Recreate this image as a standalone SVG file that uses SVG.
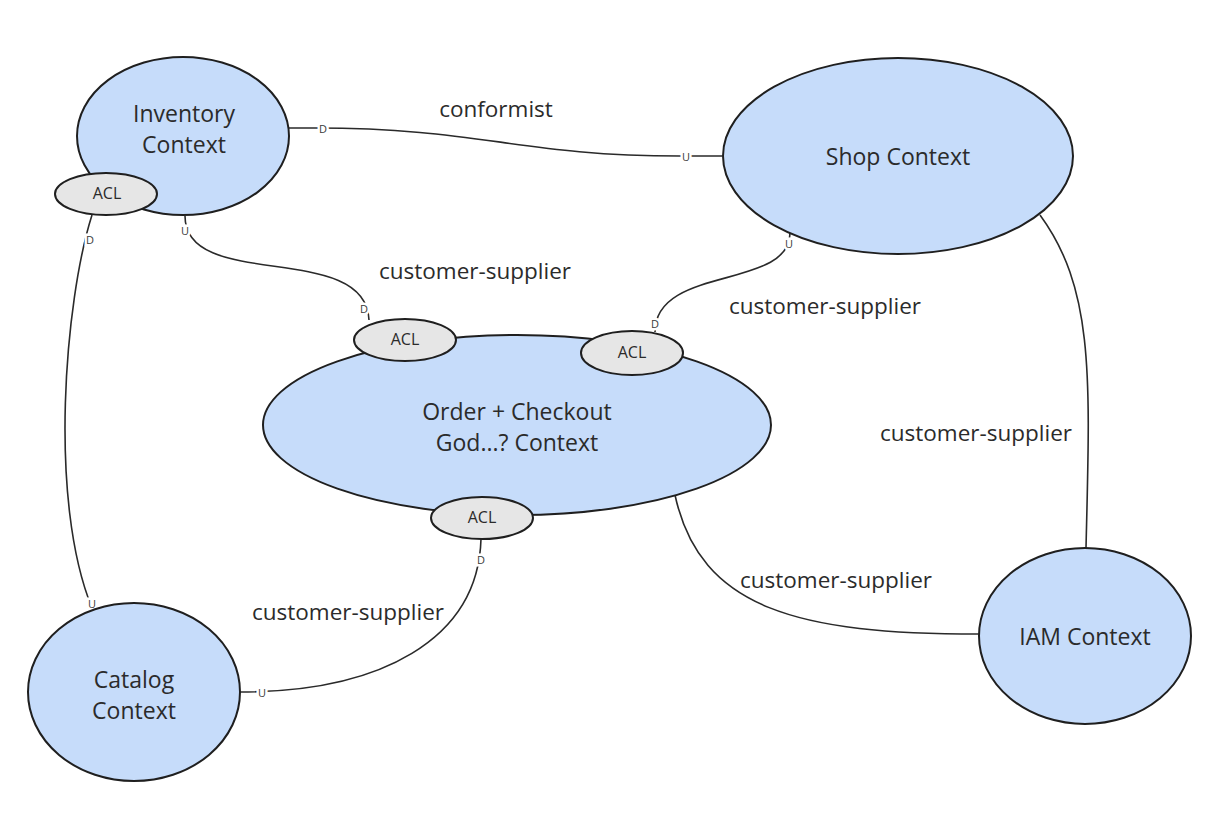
<svg xmlns="http://www.w3.org/2000/svg" width="1229" height="813" viewBox="0 0 1229 813">
<style>
.ctx{fill:#c6dcfa;stroke:#1f1f1f;stroke-width:2}
.acl{fill:#e6e6e6;stroke:#1f1f1f;stroke-width:2}
.t{font-family:"Open Sans","Noto Sans",sans-serif;font-size:23px;fill:#2b2b2b;text-anchor:middle;dominant-baseline:central}
.l{font-family:"Open Sans","Noto Sans",sans-serif;font-size:22.5px;fill:#2b2b2b;text-anchor:middle;dominant-baseline:central}
.ta{font-family:"Open Sans","Noto Sans",sans-serif;font-size:16px;fill:#2b2b2b;text-anchor:middle;dominant-baseline:central}
.ud{font-family:"Open Sans","Noto Sans",sans-serif;font-size:11px;fill:#3a3a3a;text-anchor:middle;dominant-baseline:central;stroke:#ffffff;stroke-width:5;paint-order:stroke}
.c{fill:none;stroke:#2a2a2a;stroke-width:1.6}
</style>
<rect width="1229" height="813" fill="#ffffff"/>
<g id="connectors">
  <path class="c" d="M289,128 L315,128 C480,128 520,156 680,156 L722,156"/>
  <path class="c" d="M185,216 C185,292 366,240 369,320"/>
  <path class="c" d="M790,233 C790,290 655,265 655,332"/>
  <path class="c" d="M92,215 C65,300 48,500 92,608"/>
  <path class="c" d="M481,539 C478,640 380,692 240,692"/>
  <path class="c" d="M675,495 C700,610 800,634 979,634"/>
  <path class="c" d="M1040,215 C1095,290 1090,380 1086,548"/>
  <text class="ud" x="323" y="128">D</text>
  <text class="ud" x="686" y="156">U</text>
  <text class="ud" x="185" y="230">U</text>
  <text class="ud" x="364" y="308">D</text>
  <text class="ud" x="789" y="243">U</text>
  <text class="ud" x="655" y="323">D</text>
  <text class="ud" x="90" y="239">D</text>
  <text class="ud" x="92" y="603">U</text>
  <text class="ud" x="481" y="559">D</text>
  <text class="ud" x="262" y="692">U</text>
  <text class="l" x="496" y="108">conformist</text>
  <text class="l" x="475" y="270">customer-supplier</text>
  <text class="l" x="825" y="305">customer-supplier</text>
  <text class="l" x="976" y="432">customer-supplier</text>
  <text class="l" x="836" y="579">customer-supplier</text>
  <text class="l" x="348" y="611">customer-supplier</text>
</g>
<g id="inventory">
  <ellipse class="ctx" cx="183" cy="136" rx="106" ry="79"/>
  <text class="t" x="184" y="113">Inventory</text>
  <text class="t" x="184" y="144">Context</text>
</g>
<g id="inventory-acl">
  <ellipse class="acl" cx="106" cy="194" rx="51" ry="21"/>
  <text class="ta" x="107" y="193">ACL</text>
</g>
<g id="shop">
  <ellipse class="ctx" cx="898" cy="156" rx="175" ry="98"/>
  <text class="t" x="898" y="156">Shop Context</text>
</g>
<g id="order">
  <ellipse class="ctx" cx="517" cy="425" rx="254" ry="90"/>
  <text class="t" x="517" y="411">Order + Checkout</text>
  <text class="t" x="517" y="442">God...? Context</text>
</g>
<g id="order-acl-1">
  <ellipse class="acl" cx="405" cy="340" rx="51" ry="21"/>
  <text class="ta" x="405" y="339">ACL</text>
</g>
<g id="order-acl-2">
  <ellipse class="acl" cx="632" cy="353" rx="51" ry="22"/>
  <text class="ta" x="632" y="352">ACL</text>
</g>
<g id="order-acl-3">
  <ellipse class="acl" cx="482" cy="518" rx="51" ry="21"/>
  <text class="ta" x="482" y="517">ACL</text>
</g>
<g id="iam">
  <ellipse class="ctx" cx="1085" cy="636" rx="106" ry="88"/>
  <text class="t" x="1085" y="636">IAM Context</text>
</g>
<g id="catalog">
  <ellipse class="ctx" cx="134" cy="692" rx="106" ry="89"/>
  <text class="t" x="134" y="679">Catalog</text>
  <text class="t" x="134" y="710">Context</text>
</g>
</svg>
